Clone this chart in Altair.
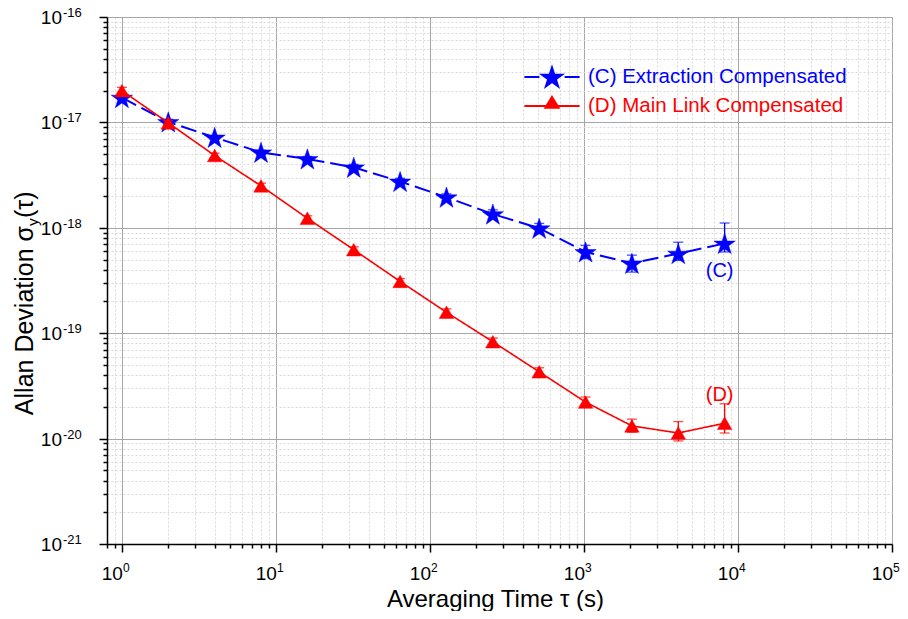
import math
import altair as alt
import pandas as pd

FONT = "Liberation Sans"
BLUE = "#0000ff"
RED = "#ff0000"

# ---------------- data ----------------
tau = [1, 2, 4, 8, 16, 32, 64, 128, 256, 512, 1024, 2048, 4096, 8192]

c_adev = [1.72e-17, 1.01e-17, 7.2e-18, 5.2e-18, 4.5e-18, 3.75e-18, 2.75e-18,
          1.95e-18, 1.35e-18, 9.9e-19, 5.9e-19, 4.6e-19, 5.7e-19, 7.1e-19]
c_low = [1.65e-17, 0.97e-17, 6.9e-18, 4.95e-18, 4.25e-18, 3.5e-18, 2.55e-18,
         1.8e-18, 1.22e-18, 8.8e-19, 5.1e-19, 3.8e-19, 4.9e-19, 5.9e-19]
c_high = [1.79e-17, 1.07e-17, 7.5e-18, 5.45e-18, 4.75e-18, 4.0e-18, 2.95e-18,
          2.1e-18, 1.48e-18, 1.1e-18, 6.8e-19, 5.5e-19, 7.3e-19, 1.11e-18]

d_adev = [2.0e-17, 9.9e-18, 4.85e-18, 2.5e-18, 1.23e-18, 6.2e-19, 3.1e-19,
          1.58e-19, 8.3e-20, 4.3e-20, 2.22e-20, 1.32e-20, 1.13e-20, 1.4e-20]
d_low = [1.9e-17, 9.4e-18, 4.6e-18, 2.35e-18, 1.15e-18, 5.8e-19, 2.9e-19,
         1.48e-19, 7.7e-20, 3.95e-20, 2.0e-20, 1.15e-20, 9.5e-21, 1.13e-20]
d_high = [2.15e-17, 1.04e-17, 5.1e-18, 2.65e-18, 1.3e-18, 6.6e-19, 3.3e-19,
          1.7e-19, 9.0e-20, 4.7e-20, 2.48e-20, 1.53e-20, 1.45e-20, 2.14e-20]

series_names = ["(C) Extraction Compensated", "(D) Main Link Compensated"]
series_colors = [BLUE, RED]

ann_text = ["(C)", "(D)"]
ann_tau = [7600, 7600]
ann_val = [3.9e-19, 2.6e-20]

x_decades = [0, 1, 2, 3, 4, 5]
y_decades = [-21, -20, -19, -18, -17, -16]

x_title = "Averaging Time τ (s)"
y_title_main = "Allan Deviation σ"
y_title_sub = "y"
y_title_tail = "(τ)"

# ---------------- shapes ----------------
def star_path(R, cy=0.0, inner=0.382):
    pts = []
    for k in range(10):
        ang = math.radians(-90 + 36 * k)
        r = R if k % 2 == 0 else R * inner
        pts.append((r * math.cos(ang), r * math.sin(ang) + cy))
    return "M" + "L".join(f"{x:.3f},{y:.3f}" for x, y in pts) + "Z"

STAR = star_path(1.0, 0.095)
LEG_C = "M-2.3,0L-1.05,0M1.05,0L2.3,0" + star_path(0.875, 0.08)
LEG_D = "M-2.3,0L2.3,0M0,-0.75L0.55,0.15L-0.55,0.15Z"

# ---------------- scales / axes ----------------
xs = alt.Scale(type="log", domain=[0.8, 1e5], nice=False)
ys = alt.Scale(type="log", domain=[1e-21, 1e-16], nice=False)

major = "abs(log(datum.value)/LN10 - round(log(datum.value)/LN10)) < 0.001"
x_ticks = [0.8, 0.9] + [m * 10.0 ** e for e in range(0, 5) for m in range(1, 10)] + [1e5]
y_ticks = [m * 10.0 ** e for e in range(-21, -16) for m in range(1, 10)] + [1e-16]


def axis(values, **kw):
    return alt.Axis(
        values=values, labels=False, grid=True,
        gridColor={"condition": {"test": major, "value": "#a6a6a6"}, "value": "#d9d9d9"},
        gridDash={"condition": {"test": major, "value": []}, "value": [2, 2]},
        gridWidth=1,
        tickSize={"condition": {"test": major, "value": 8}, "value": 4},
        tickColor="black", tickWidth=1.5,
        domainColor="black", domainWidth=1.5, **kw)


x_axis = axis(x_ticks, title=x_title, titleFont=FONT, titleFontSize=24,
              titleFontWeight="normal", titleColor="black", titleY=62, titleX=388,
              titleBaseline="alphabetic")
y_axis = axis(y_ticks, title=None)

df_c = pd.DataFrame({"tau": tau, "adev": c_adev, "lo": c_low, "hi": c_high})
df_d = pd.DataFrame({"tau": tau, "adev": d_adev, "lo": d_low, "hi": d_high})


def X(field="tau"):
    return alt.X(f"{field}:Q", scale=xs, axis=x_axis)


def Y(field="adev"):
    return alt.Y(f"{field}:Q", scale=ys, axis=y_axis)


def series_layers(df, color, dash, width, shape, size):
    line = alt.Chart(df).mark_line(color=color, strokeWidth=width, strokeDash=dash).encode(
        x=X(), y=Y())
    rule = alt.Chart(df).mark_rule(color=color, strokeWidth=1.3).encode(
        x=X(), y=Y("lo"), y2="hi:Q")
    cap_hi = alt.Chart(df).mark_tick(color=color, orient="horizontal", size=10,
                                     thickness=1.3).encode(x=X(), y=Y("hi"))
    cap_lo = alt.Chart(df).mark_tick(color=color, orient="horizontal", size=10,
                                     thickness=1.3).encode(x=X(), y=Y("lo"))
    pts = alt.Chart(df).mark_point(filled=True, shape=shape, size=size, color=color,
                                   opacity=1, stroke=color, strokeWidth=0.5).encode(
        x=X(), y=Y())
    return [line, rule, cap_hi, cap_lo, pts]


layers = []
layers += series_layers(df_c, BLUE, [16, 6], 2, STAR, 500)
layers += series_layers(df_d, RED, [1, 0], 1.6, "triangle-up", 210)

# legend (driven by the series scale, no marks drawn)
leg = alt.Legend(
    title=None, orient="none", legendX=432, legendY=47,
    symbolSize=576, symbolStrokeWidth=2, symbolOpacity=1,
    labelFont=FONT, labelFontSize=20.5, labelOffset=23, labelLimit=0,
    rowPadding=2, padding=0,
    labelColor={"expr": f"datum.value == '{series_names[0]}' ? '{BLUE}' : '{RED}'"})
legend_df = pd.DataFrame({"series": series_names, "tau": [1, 1], "adev": [1e-17, 1e-17]})
legend_layer = alt.Chart(legend_df).transform_filter("datum.tau < 0").mark_point(
    filled=True, opacity=1).encode(
    x=X(), y=Y(),
    fill=alt.Fill("series:N", scale=alt.Scale(domain=series_names, range=series_colors), legend=leg),
    stroke=alt.Stroke("series:N", scale=alt.Scale(domain=series_names, range=series_colors), legend=leg),
    shape=alt.Shape("series:N", scale=alt.Scale(domain=series_names, range=[LEG_C, LEG_D]), legend=leg),
)
layers.append(legend_layer)

# annotations (C) and (D)
for txt, t, v, col in zip(ann_text, ann_tau, ann_val, series_colors):
    adf = pd.DataFrame({"tau": [t], "adev": [v], "txt": [txt]})
    layers.append(alt.Chart(adf).mark_text(font=FONT, fontSize=20, color=col,
                                           align="center", baseline="middle").encode(
        x=X(), y=Y(), text="txt:N"))

# tick labels as 10 + superscript exponent
xl = pd.DataFrame({"tau": [10.0 ** d for d in x_decades],
                   "base": [1e-21] * len(x_decades),
                   "exp": [str(d) for d in x_decades]})
layers.append(alt.Chart(xl).mark_text(text="10", font=FONT, fontSize=19, color="black",
                                      align="right", baseline="alphabetic", dx=1, dy=36).encode(
    x=X(), y=Y("base")))
layers.append(alt.Chart(xl).mark_text(font=FONT, fontSize=12, color="black",
                                      align="left", baseline="alphabetic", dx=1, dy=28).encode(
    x=X(), y=Y("base"), text="exp:N"))

yl = pd.DataFrame({"adev": [10.0 ** d for d in y_decades],
                   "base": [0.8] * len(y_decades),
                   "exp": [str(d) for d in y_decades]})
layers.append(alt.Chart(yl).mark_text(text="10", font=FONT, fontSize=19, color="black",
                                      align="right", baseline="middle", dx=-45, dy=1).encode(
    x=X("base"), y=Y()))
layers.append(alt.Chart(yl).mark_text(font=FONT, fontSize=13, color="black",
                                      align="left", baseline="alphabetic", dx=-44, dy=0).encode(
    x=X("base"), y=Y(), text="exp:N"))

# y title with subscript
tdf = pd.DataFrame({"a": [y_title_main], "b": [y_title_sub], "c": [y_title_tail]})
layers.append(alt.Chart(tdf).mark_text(font=FONT, fontSize=25, color="black", angle=270,
                                       align="right", baseline="alphabetic").encode(
    x=alt.value(-74), y=alt.value(209), text="a:N"))
layers.append(alt.Chart(tdf).mark_text(font=FONT, fontSize=15.5, color="black", angle=270,
                                       align="left", baseline="alphabetic", dy=5).encode(
    x=alt.value(-74), y=alt.value(209), text="b:N"))
layers.append(alt.Chart(tdf).mark_text(font=FONT, fontSize=25, color="black", angle=270,
                                       align="left", baseline="alphabetic", dx=8).encode(
    x=alt.value(-74), y=alt.value(209), text="c:N"))

chart = alt.layer(*layers).properties(
    width=785, height=527,
    autosize=alt.AutoSizeParams(type="none"),
    padding={"left": 99, "top": 9, "right": 8, "bottom": 67},
    background="white",
).configure_view(stroke=None)

chart.save("out.html", embed_options={"renderer": "svg", "actions": False})
